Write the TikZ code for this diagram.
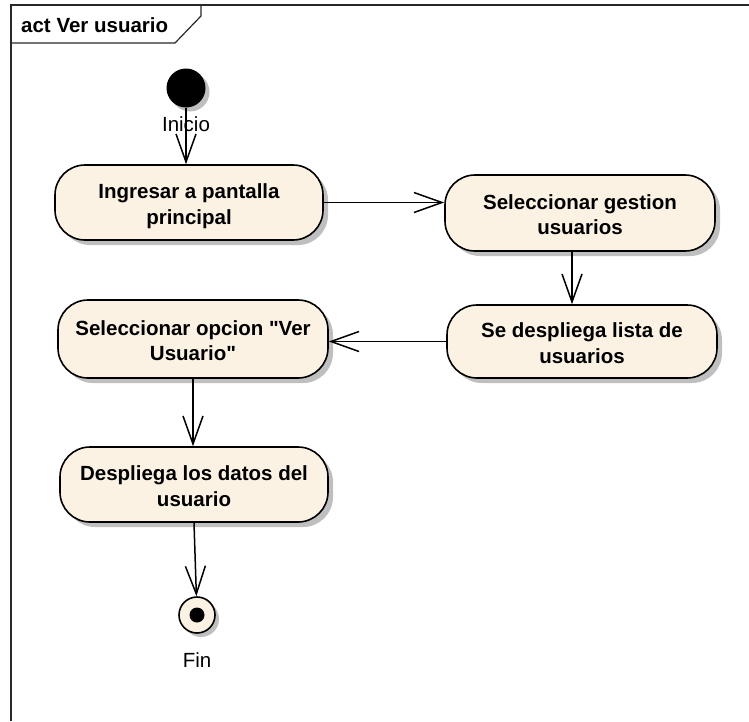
\documentclass[tikz,border=0pt]{standalone}
\usepackage{fontspec}
\setmainfont{Liberation Sans}[Ligatures=TeXOff]
\usetikzlibrary{arrows.meta,shadows}
\definecolor{cream}{RGB}{251,242,228}
\definecolor{framegray}{RGB}{40,40,40}
\newcommand{\acttext}[1]{\raisebox{-4pt}[\height][\depth]{\begin{tabular}{@{}c@{}}#1\end{tabular}}}
\tikzset{
  act/.style={draw, line width=1.6pt, rounded corners=30pt, fill=cream,
    align=center, inner sep=0pt,
    font=\bfseries\fontsize{20.5}{25.7}\selectfont,
    drop shadow={shadow xshift=5pt, shadow yshift=-5pt, fill=black!25, opacity=1}},
  flow/.style={line width=1.5pt, -{Straight Barb[length=28pt,width=20pt,line width=1.5pt]}},
  lbl/.style={font=\fontsize{20.5}{23.5}\selectfont, inner sep=0pt},
}
\begin{document}
\begin{tikzpicture}[x=1pt,y=-1pt]
\useasboundingbox (0,0) rectangle (749,721);
% frame
\draw[line width=1.5pt, framegray] (749,5) -- (11,5) -- (11,721);
\draw[line width=1.2pt, framegray] (11,43) -- (175,43) -- (201,16) -- (201,5);
\node[anchor=west, inner sep=0pt, font=\bfseries\fontsize{20.5}{23.5}\selectfont] (title) at (21,25) {act Ver usuario};
% start
\node[circle, fill=black, minimum size=39pt, inner sep=0pt,
  drop shadow={shadow xshift=4pt, shadow yshift=-4pt, fill=black!25, opacity=1}] (start) at (186,88) {};
% actions
\node[act, minimum width=268pt, minimum height=75pt] (n1) at (189,202.5) {\acttext{Ingresar a pantalla\\principal}};
\node[act, minimum width=270pt, minimum height=76pt] (n2) at (580,213) {\acttext{Seleccionar gestion\\usuarios}};
\node[act, minimum width=270pt, minimum height=73pt] (n3) at (582,341.5) {\acttext{Se despliega lista de\\usuarios}};
\node[act, minimum width=270pt, minimum height=78pt] (n4) at (193,339) {\acttext{Seleccionar opcion "Ver\\Usuario"}};
\node[act, minimum width=268pt, minimum height=75pt] (n5) at (194,484.5) {\acttext{Despliega los datos del\\usuario}};
% final
\node[circle, draw, line width=1.6pt, fill=cream, minimum size=36pt, inner sep=0pt,
  drop shadow={shadow xshift=4pt, shadow yshift=-4pt, fill=black!25, opacity=1}] (fin) at (197,615) {};
\node[circle, fill=black, minimum size=15pt, inner sep=0pt] (findot) at (fin.center) {};
% connectors
\draw[flow] (start.south) -- (start.south |- n1.north);
\draw[flow] (n1.east) -- (n1.east -| n2.west);
\draw[flow] ([xshift=-8pt]n2.south) -- ([xshift=-8pt]n2.south |- n3.north);
\draw[flow] (n3.west) -- (n3.west -| n4.east);
\draw[flow] (n4.south) -- (n4.south |- n5.north);
\draw[flow] (n5.south) -- (fin);
% labels
\node[lbl] (inicio) at (186,124) {Inicio};
\node[lbl] (finlabel) at (197,660) {Fin};
\end{tikzpicture}
\end{document}
